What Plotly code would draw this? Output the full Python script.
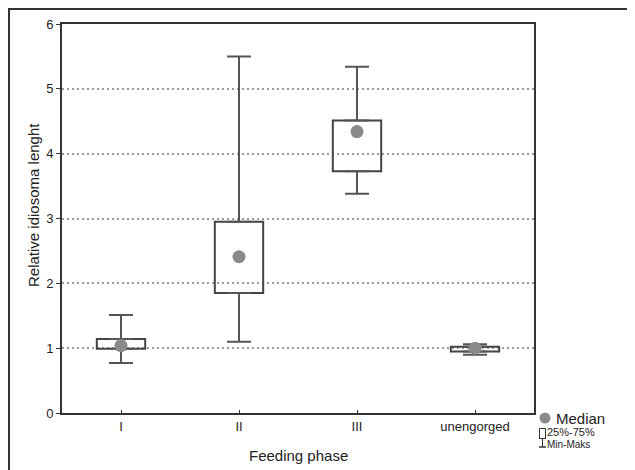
import plotly.graph_objects as go

categories = ["I", "II", "III", "unengorged"]
minimum = [0.77, 1.10, 3.38, 0.90]
q1 = [0.99, 1.85, 3.73, 0.95]
median = [1.04, 2.41, 4.34, 1.00]
q3 = [1.14, 2.95, 4.51, 1.02]
maximum = [1.51, 5.50, 5.34, 1.06]
y_ticks = [0, 1, 2, 3, 4, 5, 6]

# page body has an 8px margin, so the figure is shifted by OFF px
OFF = 8
W, H = 635 - OFF, 470 - OFF
L, T = 62 - OFF, 24 - OFF
R = W - (534 - OFF)
B = H - (413 - OFF)
pw, ph = W - L - R, H - T - B

fig = go.Figure()

# upper whiskers
fig.add_trace(go.Scatter(
    x=categories, y=q3, mode="markers", marker=dict(size=1, opacity=0),
    error_y=dict(type="data", symmetric=False,
                 array=[mx - a for mx, a in zip(maximum, q3)],
                 arrayminus=[0] * len(q3), width=12, thickness=2, color="#555555"),
    showlegend=False, hoverinfo="skip"))
# lower whiskers
fig.add_trace(go.Scatter(
    x=categories, y=q1, mode="markers", marker=dict(size=1, opacity=0),
    error_y=dict(type="data", symmetric=False,
                 array=[0] * len(q1),
                 arrayminus=[a - mn for a, mn in zip(q1, minimum)], width=12, thickness=2, color="#555555"),
    showlegend=False, hoverinfo="skip"))
# boxes
fig.add_trace(go.Bar(
    x=categories, y=[b - a for a, b in zip(q1, q3)], base=q1, width=0.41,
    marker=dict(color="rgba(0,0,0,0)", line=dict(color="#444444", width=2)),
    showlegend=False, hoverinfo="skip"))
# medians
fig.add_trace(go.Scatter(
    x=categories, y=median, mode="markers",
    marker=dict(size=13, color="#8a8a8a", line=dict(width=0)),
    showlegend=False, hoverinfo="skip"))

def px_x(p):
    return (p - OFF - L) / pw

def px_y(p):
    return (H - B - (p - OFF)) / ph

shapes = [
    # outer frame (top and left edges)
    dict(type="line", xref="paper", yref="paper",
         x0=px_x(8), x1=px_x(635), y0=px_y(9), y1=px_y(9),
         line=dict(color="#333333", width=2), layer="below"),
    dict(type="line", xref="paper", yref="paper",
         x0=px_x(9), x1=px_x(9), y0=px_y(9), y1=px_y(470),
         line=dict(color="#333333", width=2), layer="below"),
    # legend symbols
    dict(type="circle", xref="paper", yref="paper",
         x0=px_x(539.5), x1=px_x(550.5), y0=px_y(423.5), y1=px_y(412.5),
         fillcolor="#8a8a8a", line=dict(width=0)),
    dict(type="rect", xref="paper", yref="paper",
         x0=px_x(539.5), x1=px_x(545.5), y0=px_y(438.5), y1=px_y(428.5),
         fillcolor="white", line=dict(color="#333333", width=1)),
    dict(type="line", xref="paper", yref="paper",
         x0=px_x(542.5), x1=px_x(542.5), y0=px_y(447), y1=px_y(438),
         line=dict(color="#333333", width=1)),
    dict(type="line", xref="paper", yref="paper",
         x0=px_x(539), x1=px_x(546), y0=px_y(438.5), y1=px_y(438.5),
         line=dict(color="#333333", width=1)),
    dict(type="line", xref="paper", yref="paper",
         x0=px_x(539), x1=px_x(546), y0=px_y(447), y1=px_y(447),
         line=dict(color="#333333", width=1.5)),
]

annotations = [
    dict(text="Feeding phase", x=px_x(298), y=px_y(455), xref="paper", yref="paper",
         showarrow=False, font=dict(size=15, color="#222222", family="Liberation Sans"),
         xanchor="center", yanchor="middle"),
    dict(text="Relative idiosoma lenght", x=px_x(33), y=px_y(205), xref="paper", yref="paper",
         showarrow=False, textangle=-90,
         font=dict(size=15, color="#222222", family="Liberation Sans"),
         xanchor="center", yanchor="middle"),
    dict(text="Median", x=px_x(554), y=px_y(418), xref="paper", yref="paper",
         showarrow=False, font=dict(size=15, color="#222222", family="Liberation Sans"),
         xanchor="left", yanchor="middle"),
    dict(text="25%-75%", x=px_x(546), y=px_y(431.5), xref="paper", yref="paper",
         showarrow=False, font=dict(size=11, color="#222222", family="Liberation Sans"),
         xanchor="left", yanchor="middle", borderpad=0),
    dict(text="Min-Maks", x=px_x(546), y=px_y(445), xref="paper", yref="paper",
         showarrow=False, font=dict(size=10, color="#222222", family="Liberation Sans"),
         xanchor="left", yanchor="middle", borderpad=0),
]

fig.update_layout(
    width=W, height=H,
    margin=dict(l=L, r=R, t=T, b=B, pad=0, autoexpand=False),
    paper_bgcolor="white", plot_bgcolor="white",
    font=dict(family="Liberation Sans", color="#222222", size=13),
    shapes=shapes, annotations=annotations,
    barmode="overlay",
    xaxis=dict(
        range=[-0.5, 3.5], showline=True, mirror=True, linecolor="#333333", linewidth=2,
        ticks="inside", ticklen=3, tickcolor="#333333", showgrid=False,
        tickfont=dict(size=13), automargin=False,
    ),
    yaxis=dict(
        range=[0, 6], tickvals=y_ticks, showline=True, mirror=True, linecolor="#333333", linewidth=2,
        ticks="outside", ticklen=4, tickcolor="#333333",
        showgrid=True, gridcolor="#9a9a9a", griddash="2px,3px", gridwidth=1.5,
        zeroline=False, tickfont=dict(size=13), automargin=False,
    ),
)

fig.write_html("out.html")
